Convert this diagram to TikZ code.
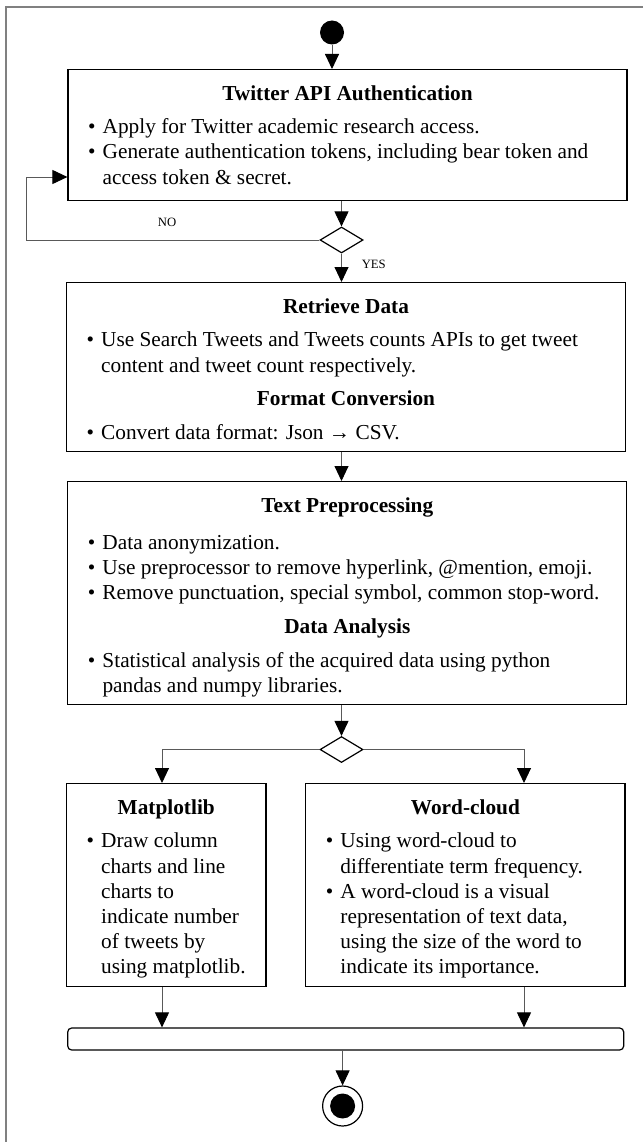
\documentclass[tikz,border=0pt]{standalone}
\usepackage{fontspec}
\setmainfont{Liberation Serif}
\usetikzlibrary{arrows.meta,positioning,shapes.geometric,calc}
\newcommand{\boxhead}[2]{\makebox[#1][c]{\bfseries #2}}
\newcommand{\blt}[1]{\makebox[14.7pt][l]{\textbullet}#1}
\newcommand{\bln}[1]{\hspace*{14.7pt}#1}

\begin{document}
\begin{tikzpicture}[x=1pt, y=-1pt,
  box/.style={draw, line width=1.2pt, anchor=north, inner xsep=20pt, inner ysep=0pt, text height=30.5pt, font=\fontsize{21.3}{25.2}\selectfont},
  cond/.style={diamond, draw, line width=1.2pt, minimum width=43pt, minimum height=26pt, inner sep=0pt},
  dot/.style={circle, fill=black, inner sep=0pt},
  lbl/.style={font=\fontsize{12.7}{14}\selectfont, inner sep=0pt},
  arr/.style={-{Triangle[length=15pt,width=14pt,color=black]}, draw=black!65, line width=0.9pt}
]
\useasboundingbox (0,0) rectangle (643,1142);
\draw[black!50, line width=2.2pt] (643,7) -- (6,7) -- (6,1142);

\node[dot, minimum size=24pt] (start) at (332,32.5) {};
\node[box, text depth=100.5pt] (auth) at (347.5,69) {\begin{tabular}[t]{@{}l@{}}
\boxhead{519pt}{Twitter API Authentication}\\[8.5pt]
\blt{Apply for Twitter academic research access.}\\
\blt{Generate authentication tokens, including bear token and}\\
\bln{access token \& secret.}
\end{tabular}};
\node[cond] (chk) at (341.5,240) {};
\node[lbl] (nolbl) at (167,222) {NO};
\node[lbl] (yeslbl) at (373.8,264) {YES};
\coordinate (back) at (26.7,177);
\node[box, text depth=138.5pt] (retr) at (346,282) {\begin{tabular}[t]{@{}l@{}}
\boxhead{519pt}{Retrieve Data}\\[8.5pt]
\blt{Use Search Tweets and Tweets counts APIs to get tweet}\\
\bln{content and tweet count respectively.}\\[8.5pt]
\boxhead{519pt}{Format Conversion}\\[8.5pt]
\blt{Convert data format: Json \textbf{→} CSV.}
\end{tabular}};
\node[box, text depth=192.5pt] (prep) at (347.3,481) {\begin{tabular}[t]{@{}l@{}}
\boxhead{519pt}{Text Preprocessing}\\[12pt]
\blt{Data anonymization.}\\
\blt{Use preprocessor to remove hyperlink, @mention, emoji.}\\
\blt{Remove punctuation, special symbol, common stop-word.}\\[8.5pt]
\boxhead{519pt}{Data Analysis}\\[8.5pt]
\blt{Statistical analysis of the acquired data using python}\\
\bln{pandas and numpy libraries.}
\end{tabular}};
\node[cond] (fork) at (341.5,749.5) {};
\coordinate (mplin) at (162,783);
\coordinate (wclin) at (524,783);
\node[box, text depth=172.5pt] (mpl) at (166.25,783) {\begin{tabular}[t]{@{}l@{}}
\boxhead{159.5pt}{Matplotlib}\\[8.5pt]
\blt{Draw column}\\
\bln{charts and line}\\
\bln{charts to}\\
\bln{indicate number}\\
\bln{of tweets by}\\
\bln{using matplotlib.}
\end{tabular}};
\node[box, text depth=172.5pt] (wcl) at (465.4,783) {\begin{tabular}[t]{@{}l@{}}
\boxhead{279.3pt}{Word-cloud}\\[8.5pt]
\blt{Using word-cloud to}\\
\bln{differentiate term frequency.}\\
\blt{A word-cloud is a visual}\\
\bln{representation of text data,}\\
\bln{using the size of the word to}\\
\bln{indicate its importance.}
\end{tabular}};
\node[draw, line width=1.2pt, rounded corners=4pt, minimum width=556pt, minimum height=22pt, inner sep=0pt] (join) at (345.7,1039) {};
\node[circle, draw, line width=1.2pt, minimum size=40pt, inner sep=0pt] (stop) at (342.6,1106) {};
\node[dot, minimum size=25pt] (stopdot) at (stop.center) {};

\draw[arr] (start) -- (start |- auth.north);
\draw[arr] (chk |- auth.south) -- (chk.north);
\draw[arr] (chk.west) -| (back) -- (back -| auth.west);
\draw[arr] (chk.south) -- (chk |- retr.north);
\draw[arr] (chk |- retr.south) -- (chk |- prep.north);
\draw[arr] (fork |- prep.south) -- (fork.north);
\draw[arr] (fork.west) -| (mplin);
\draw[arr] (fork.east) -| (wclin);
\draw[arr] (mplin |- mpl.south) -- (mplin |- join.north);
\draw[arr] (wclin |- wcl.south) -- (wclin |- join.north);
\draw[arr] (stop |- join.south) -- (stop.north);
\end{tikzpicture}
\end{document}
